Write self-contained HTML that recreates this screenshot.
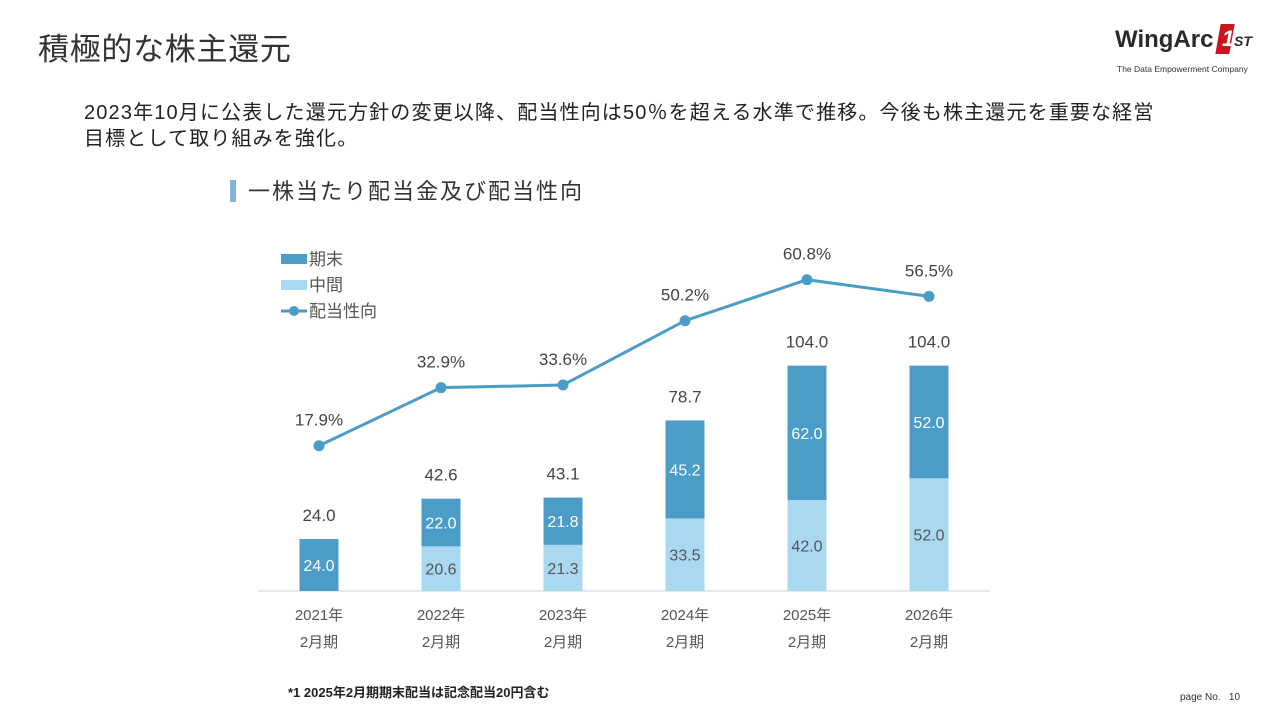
<!DOCTYPE html>
<html><head><meta charset="utf-8"><style>
body{margin:0;width:1280px;height:720px;background:#fff;font-family:"Liberation Sans","Noto Sans CJK JP",sans-serif;overflow:hidden;position:relative;color:#222}
.abs{position:absolute;white-space:nowrap}
</style></head><body>
<div class="abs" style="left:38px;top:24px;font-size:31px;letter-spacing:0.7px;color:#333">積極的な株主還元</div>
<div class="abs" style="left:1115px;top:26px;width:140px;height:50px">
 <div style="position:absolute;left:0;top:0;font-size:24px;font-weight:bold;color:#2a2a2a">WingArc</div>
 <div style="position:absolute;left:103px;top:-2px;width:14px;height:30px;background:#c8161d;transform:skewX(-10deg)"></div>
 <div style="position:absolute;left:107px;top:0;font-size:22px;font-weight:bold;color:#fff;font-style:italic">1</div>
 <div style="position:absolute;left:119px;top:7px;font-size:14px;font-weight:bold;font-style:italic;color:#2a2a2a">ST</div>
 <div style="position:absolute;left:2px;top:38px;font-size:8.5px;color:#333">The Data Empowerment Company</div>
</div>
<div class="abs" style="left:84px;top:100px;font-size:20px;letter-spacing:1.15px;line-height:26px;color:#222">2023年10月に公表した還元方針の変更以降、配当性向は50％を超える水準で推移。今後も株主還元を重要な経営<br>目標として取り組みを強化。</div>
<div class="abs" style="left:230px;top:180px;width:6px;height:22px;background:#7fb6d8"></div>
<div class="abs" style="left:248px;top:174px;font-size:22px;letter-spacing:2px;color:#333">一株当たり配当金及び配当性向</div>
<svg class="abs" style="left:0;top:0" width="1280" height="720" id="chart">
 <line x1="258" y1="591" x2="990" y2="591" stroke="#d0d0d0" stroke-width="1"/>
 <g font-size="17" fill="#555">
  <rect x="281" y="254" width="26" height="10" fill="#4b9cc7"/>
  <text x="309" y="265">期末</text>
  <rect x="281" y="280" width="26" height="10" fill="#a9d8f1"/>
  <text x="309" y="291">中間</text>
  <line x1="281" y1="311" x2="307" y2="311" stroke="#4b9cc7" stroke-width="3"/>
  <circle cx="294" cy="311" r="5" fill="#4b9cc7"/>
  <text x="309" y="317">配当性向</text>
 </g>
</svg>
<div class="abs" style="left:288px;top:682px;font-size:13px;font-weight:bold;color:#222">*1 2025年2月期期末配当は記念配当20円含む</div>
<div class="abs" style="left:1180px;top:692px;font-size:10px;color:#333">page No.&nbsp;&nbsp;&nbsp;10</div>
<script>
const categories=["2021年","2022年","2023年","2024年","2025年","2026年"];
const interim=[0,20.6,21.3,33.5,42.0,52.0];
const yearEnd=[24.0,22.0,21.8,45.2,62.0,52.0];
const totals=[24.0,42.6,43.1,78.7,104.0,104.0];
const payout=[17.9,32.9,33.6,50.2,60.8,56.5];
const NS="http://www.w3.org/2000/svg";
const svg=document.getElementById('chart');
const x=i=>319+i*122;
const yv=v=>591-v*2.167;
const yp=p=>515-p*3.87;
const bw=39;
function mk(t,a,txt){const e=document.createElementNS(NS,t);for(const k in a)e.setAttribute(k,a[k]);if(txt!==undefined)e.textContent=txt;svg.appendChild(e);return e;}
categories.forEach((c,i)=>{
 const cx=x(i);
 if(interim[i]>0){
  const r=mk('rect',{x:cx-bw/2,y:yv(interim[i]),width:bw,height:interim[i]*2.167,fill:'#a9d8f1'});
  
  
  const t=mk('text',{x:cx,y:yv(interim[i]/2)+6,'text-anchor':'middle','font-size':16,fill:'#555'},interim[i].toFixed(1));
  
  
 }
 const r2=mk('rect',{x:cx-bw/2,y:yv(interim[i]+yearEnd[i]),width:bw,height:yearEnd[i]*2.167,fill:'#4b9cc7'});
 
 
 const t2=mk('text',{x:cx,y:yv(interim[i]+yearEnd[i]/2)+6,'text-anchor':'middle','font-size':16,fill:'#fff'},yearEnd[i].toFixed(1));
 
 
 const t3=mk('text',{x:cx,y:yv(totals[i])-18,'text-anchor':'middle','font-size':17,fill:'#444'},totals[i].toFixed(1));
 
 
 const t4=mk('text',{x:cx,y:620,'text-anchor':'middle','font-size':15,fill:'#555'},c);
 
 
 const t5=mk('text',{x:cx,y:647,'text-anchor':'middle','font-size':15,fill:'#555'},'2月期');
 
 
});
const line=mk('polyline',{points:payout.map((p,i)=>x(i)+','+yp(p)).join(' '),fill:'none',stroke:'#4b9cc7','stroke-width':3});


payout.forEach((p,i)=>{
 const c=mk('circle',{cx:x(i),cy:yp(p),r:5.5,fill:'#4b9cc7'});
 
 
 const t=mk('text',{x:x(i),y:yp(p)-20,'text-anchor':'middle','font-size':17,fill:'#444'},p.toFixed(1)+'%');
 
 
});
</script>
</body></html>
